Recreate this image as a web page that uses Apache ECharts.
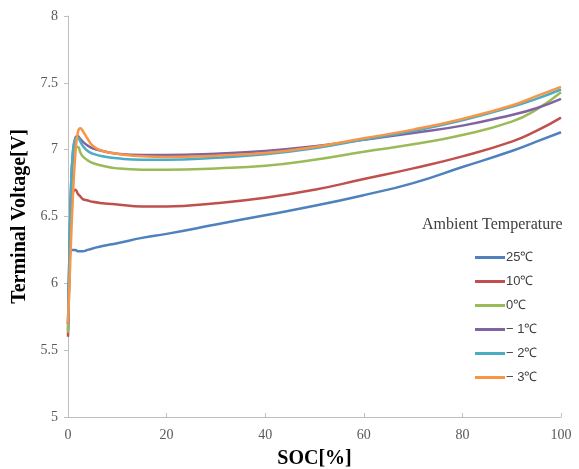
<!DOCTYPE html>
<html><head><meta charset="utf-8">
<script src="https://cdn.jsdelivr.net/npm/echarts@6/dist/echarts.min.js"></script>
<style>html,body{margin:0;padding:0;background:#fff}#c{width:579px;height:469px}</style>
</head><body><div id="c"></div>
<script>
const soc = [0, 0.3, 0.6, 1, 1.5, 2, 2.5, 3, 4, 5, 7, 10, 15, 20, 30, 40, 50, 60, 70, 80, 90, 95, 100];
const seriesNames = ['25℃', '10℃', '0℃', '− 1℃', '− 2℃', '− 3℃'];
const v25 = [5.65, 6.1, 6.25, 6.25, 6.25, 6.24, 6.24, 6.24, 6.25, 6.26, 6.28, 6.30, 6.34, 6.37, 6.44, 6.51, 6.58, 6.66, 6.75, 6.87, 6.99, 7.06, 7.13];
const v10 = [5.6, 6.1, 6.5, 6.68, 6.70, 6.67, 6.65, 6.63, 6.62, 6.61, 6.60, 6.59, 6.575, 6.575, 6.60, 6.64, 6.70, 6.78, 6.86, 6.95, 7.06, 7.14, 7.24];
const v0 = [5.63, 6.2, 6.65, 6.92, 7.02, 7.02, 6.98, 6.95, 6.92, 6.90, 6.88, 6.86, 6.85, 6.85, 6.86, 6.88, 6.925, 6.985, 7.04, 7.11, 7.21, 7.30, 7.43];
const vm1 = [5.7, 6.25, 6.7, 6.98, 7.09, 7.10, 7.08, 7.06, 7.03, 7.01, 6.99, 6.97, 6.96, 6.96, 6.97, 6.99, 7.025, 7.075, 7.125, 7.18, 7.26, 7.31, 7.38];
const vm2 = [5.7, 6.25, 6.7, 6.98, 7.08, 7.09, 7.06, 7.03, 6.99, 6.97, 6.95, 6.935, 6.925, 6.925, 6.94, 6.965, 7.01, 7.075, 7.14, 7.22, 7.32, 7.38, 7.45];
const vm3 = [5.7, 6.0, 6.3, 6.65, 6.97, 7.13, 7.16, 7.14, 7.08, 7.03, 6.99, 6.97, 6.95, 6.945, 6.955, 6.975, 7.02, 7.085, 7.15, 7.23, 7.33, 7.40, 7.47];
const xTicks = [0, 20, 40, 60, 80, 100];
const yTicks = [5, 5.5, 6, 6.5, 7, 7.5, 8];

const colors = ['#4F81BD', '#C0504D', '#9BBB59', '#8064A2', '#4BACC6', '#F79646'];
const values = [v25, v10, v0, vm1, vm2, vm3];

const chart = echarts.init(document.getElementById('c'));
chart.setOption({
  animation: false,
  backgroundColor: '#fff',
  grid: { left: 68, right: 18, top: 16, bottom: 52, outerBoundsMode: 'none', containLabel: false },
  title: {
    text: 'Ambient Temperature', left: 417, top: 212,
    textStyle: { fontFamily: 'Liberation Serif', fontSize: 16, fontWeight: 'normal', color: '#404040' }
  },
  legend: {
    orient: 'vertical', left: 470, top: 246,
    itemWidth: 30, itemHeight: 3, itemGap: 11,
    icon: 'rect',
    textStyle: { fontFamily: 'Liberation Sans', fontSize: 13, color: '#404040', padding: [0, 0, 0, -4] },
    data: seriesNames
  },
  xAxis: {
    type: 'value', min: 0, max: 100, interval: 20,
    name: 'SOC[%]', nameLocation: 'middle', nameGap: 32,
    nameTextStyle: { fontFamily: 'Liberation Serif', fontSize: 20, fontWeight: 'bold', color: '#000' },
    axisLine: { lineStyle: { color: '#bfbfbf', width: 1 } },
    axisTick: { show: true, inside: true, length: 4, lineStyle: { color: '#bfbfbf' } },
    axisLabel: { fontFamily: 'Liberation Serif', fontSize: 14, color: '#595959', margin: 11,
      formatter: v => xTicks.includes(v) ? String(v) : '' },
    splitLine: { show: false }
  },
  yAxis: {
    type: 'value', min: 5, max: 8, interval: 0.5,
    name: 'Terminal Voltage[V]', nameLocation: 'middle', nameGap: 22, nameRotate: 90,
    nameTextStyle: { fontFamily: 'Liberation Serif', fontSize: 20, fontWeight: 'bold', color: '#000' },
    axisLine: { show: true, lineStyle: { color: '#bfbfbf', width: 1 } },
    axisTick: { show: true, length: 4, lineStyle: { color: '#bfbfbf' } },
    axisLabel: { fontFamily: 'Liberation Serif', fontSize: 14, color: '#595959', margin: 10,
      formatter: v => yTicks.includes(v) ? String(v) : '' },
    splitLine: { show: false }
  },
  series: seriesNames.map((n, i) => ({
    name: n, type: 'line', showSymbol: false, smooth: 0.5,
    color: colors[i],
    lineStyle: { width: 2.5, color: colors[i] },
    data: soc.map((s, j) => [s, values[i][j]])
  }))
});
</script></body></html>
